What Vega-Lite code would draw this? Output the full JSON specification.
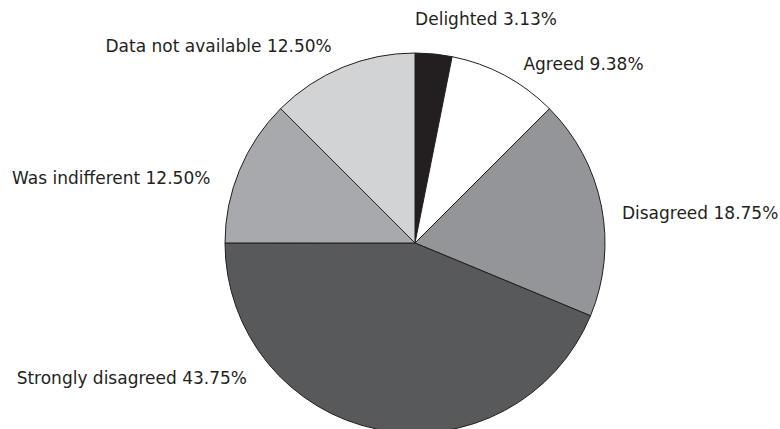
{
  "$schema": "https://vega.github.io/schema/vega-lite/v6.json",
  "autosize": "none",
  "width": 730,
  "height": 374,
  "padding": {"left": 50, "top": 56, "right": 0, "bottom": 0},
  "background": "white",
  "config": {"view": {"stroke": null}, "text": {"font": "DejaVu Sans", "fontSize": 17, "fill": "#231f20", "baseline": "middle", "radius": 215}},
  "data": {
    "values": [
      {"rank": 1, "category": "Delighted", "value": 3.13},
      {"rank": 2, "category": "Agreed", "value": 9.38},
      {"rank": 3, "category": "Disagreed", "value": 18.75},
      {"rank": 4, "category": "Strongly disagreed", "value": 43.75},
      {"rank": 5, "category": "Was indifferent", "value": 12.5},
      {"rank": 6, "category": "Data not available", "value": 12.5}
    ]
  },
  "transform": [
    {"window": [{"op": "sum", "field": "value", "as": "cum"}], "sort": [{"field": "rank"}], "frame": [null, 0]},
    {"calculate": "datum.cum - datum.value", "as": "start"},
    {"calculate": "datum.cum - datum.value / 2", "as": "mid"},
    {"calculate": "datum.category + ' ' + format(datum.value, '.2f') + '%'", "as": "label"}
  ],
  "layer": [
    {
      "mark": {"type": "arc", "radius": 190, "stroke": "#231f20", "strokeWidth": 1},
      "encoding": {
        "theta": {"field": "start", "type": "quantitative", "stack": null, "scale": {"domain": [0, 100.01]}},
        "theta2": {"field": "cum"},
        "color": {
          "field": "category",
          "type": "nominal",
          "legend": null,
          "scale": {
            "domain": ["Delighted", "Agreed", "Disagreed", "Strongly disagreed", "Was indifferent", "Data not available"],
            "range": ["#231f20", "#ffffff", "#939598", "#58595b", "#a7a9ac", "#d1d3d4"]
          }
        }
      }
    },
    {
      "transform": [{"filter": "datum.category === 'Delighted'"}],
      "mark": {"type": "text", "align": "left", "dx": -21, "dy": -9},
      "encoding": {"theta": {"field": "mid", "type": "quantitative", "stack": null}, "text": {"field": "label"}}
    },
    {
      "transform": [{"filter": "datum.category === 'Agreed'"}],
      "mark": {"type": "text", "align": "left", "dx": 7, "dy": 12},
      "encoding": {"theta": {"field": "mid", "type": "quantitative", "stack": null}, "text": {"field": "label"}}
    },
    {
      "transform": [{"filter": "datum.category === 'Disagreed'"}],
      "mark": {"type": "text", "align": "left", "dx": -4, "dy": 13},
      "encoding": {"theta": {"field": "mid", "type": "quantitative", "stack": null}, "text": {"field": "label"}}
    },
    {
      "transform": [{"filter": "datum.category === 'Strongly disagreed'"}],
      "mark": {"type": "text", "align": "right", "dx": -126, "dy": -75},
      "encoding": {"theta": {"field": "mid", "type": "quantitative", "stack": null}, "text": {"field": "label"}}
    },
    {
      "transform": [{"filter": "datum.category === 'Was indifferent'"}],
      "mark": {"type": "text", "align": "right", "dx": -6, "dy": 18},
      "encoding": {"theta": {"field": "mid", "type": "quantitative", "stack": null}, "text": {"field": "label"}}
    },
    {
      "transform": [{"filter": "datum.category === 'Data not available'"}],
      "mark": {"type": "text", "align": "right", "dx": -1, "dy": 3},
      "encoding": {"theta": {"field": "mid", "type": "quantitative", "stack": null}, "text": {"field": "label"}}
    }
  ]
}
